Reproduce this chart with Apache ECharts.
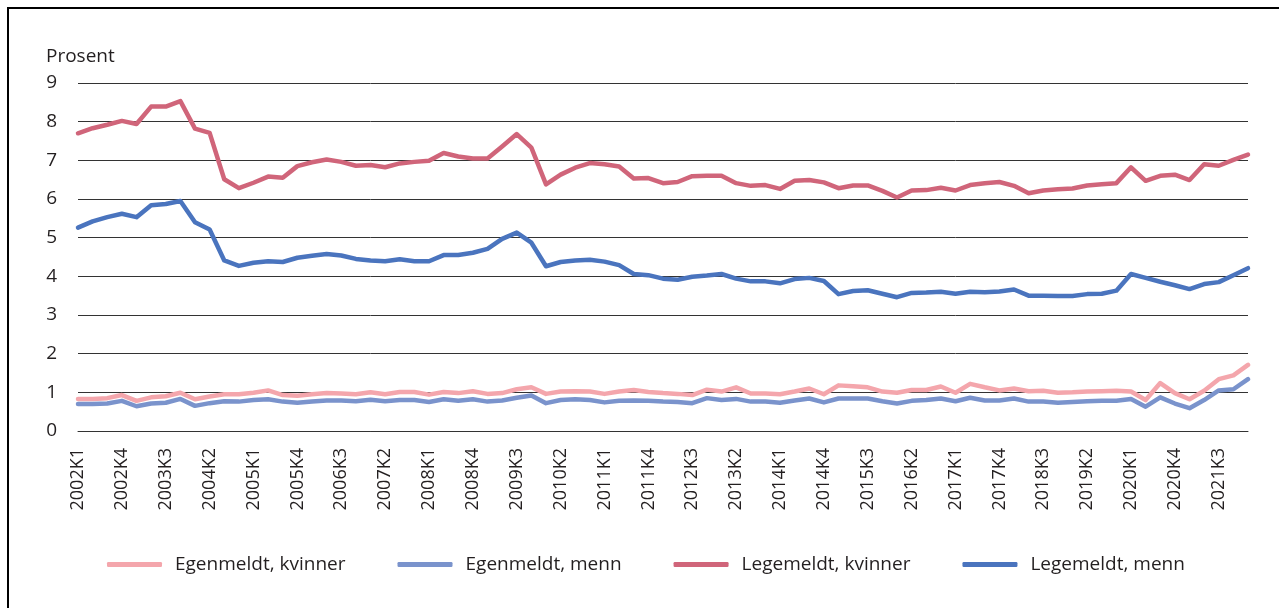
<!DOCTYPE html>
<html>
<head>
<meta charset="utf-8">
<script src="https://cdn.jsdelivr.net/npm/echarts@6/dist/echarts.min.js"></script>
<style>
html,body{margin:0;padding:0;background:#fff;}
#c{width:1279px;height:608px;}
</style>
</head>
<body>
<div id="c"></div>
<script>
// Quarter categories 2002K1 .. 2022K1
var startYear = 2002;
var nQuarters = 81;
var categories = [];
for (var q = 0; q < nQuarters; q++) {
  categories.push((startYear + Math.floor(q / 4)) + 'K' + (q % 4 + 1));
}

var yTicks = [0, 1, 2, 3, 4, 5, 6, 7, 8, 9];

var egenKvinner = [0.83,0.83,0.85,0.93,0.78,0.87,0.90,0.99,0.82,0.89,
0.95,0.95,0.99,1.05,0.93,0.91,0.95,0.98,0.97,0.95,
1.00,0.95,1.01,1.01,0.94,1.01,0.98,1.03,0.96,0.98,
1.08,1.13,0.96,1.02,1.03,1.02,0.96,1.02,1.06,1.01,
0.98,0.96,0.93,1.07,1.02,1.13,0.97,0.97,0.95,1.02,
1.10,0.95,1.18,1.16,1.13,1.02,0.99,1.06,1.06,1.15,
0.99,1.22,1.13,1.05,1.10,1.03,1.04,0.99,1.00,1.02,
1.03,1.04,1.02,0.80,1.24,0.98,0.82,1.04,1.34,1.44,1.71];

var egenMenn = [0.70,0.70,0.71,0.78,0.64,0.71,0.73,0.83,0.65,0.72,
0.77,0.76,0.80,0.82,0.76,0.73,0.76,0.79,0.79,0.77,
0.81,0.77,0.80,0.80,0.75,0.82,0.78,0.82,0.76,0.79,
0.86,0.92,0.72,0.80,0.82,0.80,0.74,0.78,0.79,0.78,
0.76,0.75,0.72,0.85,0.80,0.83,0.76,0.76,0.73,0.79,
0.84,0.74,0.84,0.84,0.84,0.77,0.71,0.78,0.80,0.84,
0.77,0.86,0.79,0.79,0.84,0.76,0.76,0.73,0.75,0.77,
0.78,0.78,0.83,0.63,0.87,0.71,0.59,0.80,1.05,1.08,1.34];

var legeKvinner = [7.70,7.83,7.92,8.02,7.94,8.39,8.39,8.53,7.82,7.71,
6.51,6.28,6.42,6.58,6.55,6.85,6.95,7.02,6.96,6.86,
6.88,6.82,6.92,6.96,6.99,7.19,7.10,7.05,7.05,7.36,
7.68,7.33,6.38,6.63,6.81,6.93,6.90,6.84,6.53,6.54,
6.41,6.44,6.59,6.60,6.60,6.41,6.34,6.36,6.26,6.47,
6.49,6.43,6.28,6.35,6.35,6.21,6.04,6.22,6.23,6.29,
6.22,6.36,6.41,6.44,6.34,6.15,6.22,6.25,6.27,6.35,
6.38,6.41,6.82,6.47,6.60,6.63,6.49,6.90,6.86,7.01,7.15];

var legeMenn = [5.26,5.42,5.53,5.62,5.53,5.84,5.87,5.95,5.40,5.21,
4.41,4.27,4.35,4.39,4.37,4.48,4.53,4.58,4.54,4.45,
4.41,4.39,4.44,4.39,4.39,4.55,4.55,4.61,4.71,4.97,
5.13,4.87,4.26,4.37,4.41,4.43,4.38,4.29,4.06,4.03,
3.94,3.91,3.99,4.02,4.06,3.94,3.87,3.87,3.82,3.93,
3.96,3.88,3.54,3.62,3.64,3.55,3.46,3.57,3.58,3.60,
3.55,3.60,3.59,3.61,3.66,3.50,3.50,3.49,3.49,3.54,
3.55,3.63,4.06,3.96,3.86,3.77,3.67,3.80,3.85,4.03,4.21];

var seriesNames = ['Egenmeldt, kvinner', 'Egenmeldt, menn', 'Legemeldt, kvinner', 'Legemeldt, menn'];
var seriesColors = ['#F4A6AC', '#7A93CC', '#D0657A', '#4A74BE'];
var seriesData = [egenKvinner, egenMenn, legeKvinner, legeMenn];

var FONT = 'Open Sans';
var chart = echarts.init(document.getElementById('c'), null, {renderer: 'canvas'});

var series = seriesData.map(function (d, i) {
  return {
    name: seriesNames[i],
    type: 'line',
    data: d,
    symbol: 'none',
    smooth: false,
    lineStyle: {width: 4.5, color: seriesColors[i], cap: 'round', join: 'round'},
    itemStyle: {color: seriesColors[i]},
    emphasis: {disabled: true}
  };
});

chart.setOption({
  animation: false,
  backgroundColor: '#ffffff',
  textStyle: {fontFamily: FONT},
  title: {
    text: 'Prosent',
    left: 41,
    top: 42,
    textStyle: {fontFamily: FONT, fontSize: 19, fontWeight: 'normal', color: '#231f20'}
  },
  grid: {left: 78, right: 31, top: 83, bottom: 177, containLabel: false},
  legend: {
    data: seriesNames,
    left: 102,
    top: 550,
    icon: 'roundRect',
    itemWidth: 55,
    itemHeight: 5,
    itemGap: 52,
    textStyle: {fontFamily: FONT, fontSize: 19, color: '#231f20', padding: [0, 0, 0, 8]}
  },
  xAxis: {
    type: 'category',
    data: categories,
    boundaryGap: false,
    axisLine: {show: true, lineStyle: {color: '#333', width: 1}},
    axisTick: {show: false},
    axisLabel: {
      interval: 2,
      rotate: 90,
      margin: 17,
      fontFamily: FONT,
      fontSize: 18,
      color: '#231f20'
    },
    splitLine: {show: false}
  },
  yAxis: {
    type: 'value',
    min: yTicks[0],
    max: yTicks[yTicks.length - 1],
    interval: 1,
    axisLine: {show: false},
    axisTick: {show: false},
    axisLabel: {margin: 21, fontFamily: FONT, fontSize: 19, color: '#231f20'},
    splitLine: {show: true, lineStyle: {color: '#333', width: 1}}
  },
  graphic: [
    {type: 'line', shape: {x1: 7, y1: 8, x2: 1279, y2: 8}, style: {stroke: '#000', lineWidth: 2}, silent: true},
    {type: 'line', shape: {x1: 8, y1: 7, x2: 8, y2: 608}, style: {stroke: '#000', lineWidth: 2}, silent: true}
  ],
  series: series
});
</script>
</body>
</html>
